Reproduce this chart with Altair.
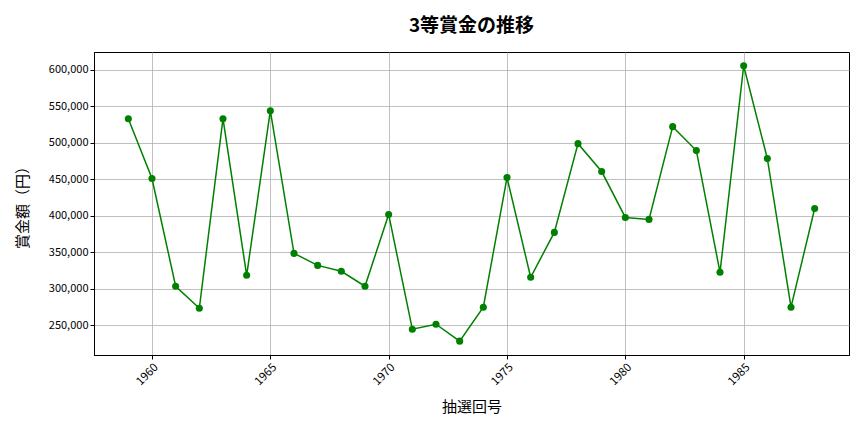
import altair as alt
import pandas as pd

years = list(range(1959, 1989))
prizes = [533000, 451000, 303400, 273300, 533000, 318400, 544000, 348500, 332000, 323900,
          303400, 401800, 244600, 251400, 228200, 274700, 452400, 315700, 377200, 498800,
          460600, 397700, 395000, 522100, 489300, 322500, 605500, 478300, 274700, 410000]
x_ticks = [1960, 1965, 1970, 1975, 1980, 1985]
y_ticks = [250000, 300000, 350000, 400000, 450000, 500000, 550000, 600000]

df = pd.DataFrame({"year": years, "prize": prizes})
FONT = "Noto Sans CJK JP"

base = alt.Chart(df).encode(
    x=alt.X("year:Q",
            scale=alt.Scale(domain=[1957.55, 1989.45], nice=False, zero=False),
            axis=alt.Axis(values=x_ticks, format="d", labelAngle=-45, labelAlign="right",
                          labelBaseline="top", title="抽選回号", titlePadding=12,
                          grid=True, gridColor="#b0b0b0", gridWidth=0.8,
                          domainColor="black", tickColor="black", tickSize=4,
                          labelFontSize=11.5, titleFontSize=15, titleFontWeight="normal",
                          labelColor="black", titleColor="black")),
    y=alt.Y("prize:Q",
            scale=alt.Scale(domain=[209200, 624400], nice=False, zero=False),
            axis=alt.Axis(values=y_ticks, format=",d", title="賞金額（円）",
                          titleX=-72, titleBaseline="middle",
                          grid=True, gridColor="#b0b0b0", gridWidth=0.8,
                          domainColor="black", tickColor="black", tickSize=4,
                          labelFontSize=11, titleFontSize=15, titleFontWeight="normal",
                          labelColor="black", titleColor="black")),
)

line = base.mark_line(color="#008000", strokeWidth=1.5)
pts = base.mark_circle(color="#008000", size=50, opacity=1)

chart = (line + pts).properties(
    width=755, height=303,
    padding={"left": 7, "top": 9, "right": 5, "bottom": 5},
    title=alt.TitleParams("3等賞金の推移", fontSize=19, fontWeight="bold", font=FONT,
                          color="black", offset=16),
).configure(font=FONT).configure_view(stroke="black", strokeWidth=1)

chart.save("out.html", embed_options={"renderer": "svg", "actions": False})
